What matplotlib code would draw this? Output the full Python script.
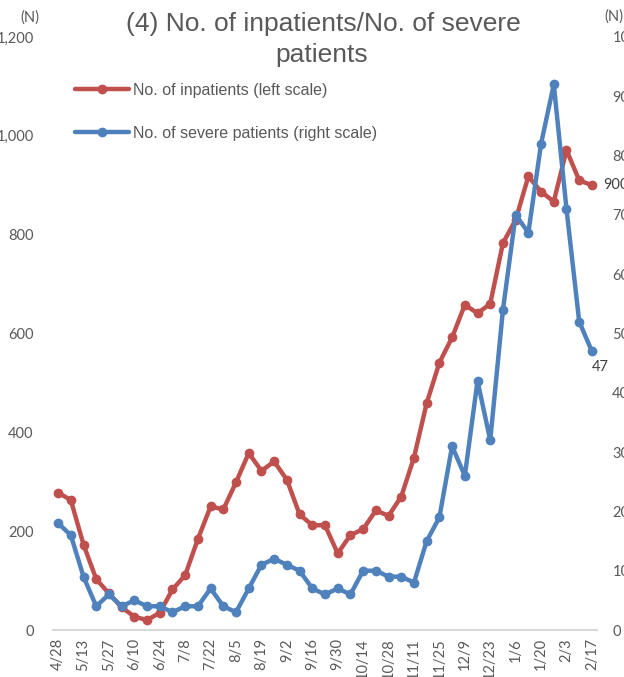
import matplotlib.pyplot as plt
import numpy as np

weeks = ["4/28", "5/6", "5/13", "5/20", "5/27", "6/3", "6/10", "6/17", "6/24", "7/1",
         "7/8", "7/15", "7/22", "7/29", "8/5", "8/12", "8/19", "8/26", "9/2", "9/9",
         "9/16", "9/23", "9/30", "10/7", "10/14", "10/21", "10/28", "11/4", "11/11", "11/18",
         "11/25", "12/2", "12/9", "12/16", "12/23", "12/30", "1/6", "1/13", "1/20", "1/27",
         "2/3", "2/10", "2/17"]

inpatients = [278, 263, 173, 103, 74, 46, 27, 20, 35, 82,
              111, 184, 250, 244, 299, 358, 322, 341, 304, 234,
              212, 212, 155, 192, 204, 242, 231, 270, 349, 459,
              541, 592, 658, 641, 660, 783, 830, 918, 887, 867,
              971, 910, 900]

severe = [18, 16, 9, 4, 6, 4, 5, 4, 4, 3,
          4, 4, 7, 4, 3, 7, 11, 12, 11, 10,
          7, 6, 7, 6, 10, 10, 9, 9, 8, 15,
          19, 31, 26, 42, 32, 54, 70, 67, 82, 92,
          71, 52, 47]

RED = "#C0504D"
BLUE = "#4F81BD"
GRAY = "#595959"
TICKFONT = "Lato"
MAINFONT = "Liberation Sans"

x = np.arange(len(weeks))

fig = plt.figure(figsize=(6.24, 6.77), dpi=100)
ax = fig.add_axes([53 / 624, 47 / 677, 544 / 624, 593 / 677])
ax2 = ax.twinx()

l1, = ax.plot(x, inpatients, color=RED, lw=3.2, marker="o", ms=6,
              label="No. of inpatients (left scale)", solid_capstyle="round")
l2, = ax2.plot(x, severe, color=BLUE, lw=3.2, marker="o", ms=6,
               label="No. of severe patients (right scale)", solid_capstyle="round")

ax.set_xlim(-0.4, len(weeks) - 0.6)
ax.set_ylim(0, 1200)
ax2.set_ylim(0, 100)
ax.set_yticks(range(0, 1201, 200))
ax.set_yticklabels([f"{v:,}" for v in range(0, 1201, 200)])
ax2.set_yticks(range(0, 101, 10))

ax.set_xticks(x[::2])
ax.set_xticklabels(weeks[::2], rotation=90)

for a in (ax, ax2):
    for s in a.spines.values():
        s.set_visible(False)
    a.tick_params(length=0, colors=GRAY, labelsize=10.5)
    for lab in a.get_xticklabels() + a.get_yticklabels():
        lab.set_fontfamily(TICKFONT)
ax.spines["bottom"].set_visible(True)
ax.spines["bottom"].set_color("#D9D9D9")
ax.spines["bottom"].set_linewidth(1.5)
ax.tick_params(axis="y", pad=14)
ax2.tick_params(axis="y", pad=11)
ax.tick_params(axis="x", pad=6)

ax.annotate(f"{inpatients[-1]}", (x[-1], inpatients[-1]), xytext=(8, 0),
            textcoords="offset points", va="center", ha="left", color="#404040",
            fontsize=10.5, fontfamily=TICKFONT)
ax2.annotate(f"{severe[-1]}", (x[-1], severe[-1]), xytext=(0, -11),
             textcoords="offset points", va="center", ha="left", color="#404040",
             fontsize=10.5, fontfamily=TICKFONT)

fig.text(30 / 624, 1 - 18 / 677, "(N)", ha="center", va="center", color=GRAY,
         fontsize=10.5, fontfamily=TICKFONT)
fig.text(614 / 624, 1 - 17 / 677, "(N)", ha="center", va="center", color=GRAY,
         fontsize=10.5, fontfamily=TICKFONT)

fig.text(323 / 624, 1 - 31 / 677, "(4) No. of inpatients/No. of severe", ha="center",
         va="baseline", color=GRAY, fontsize=19, fontfamily=MAINFONT)
fig.text(322 / 624, 1 - 62 / 677, "patients", ha="center", va="baseline", color=GRAY,
         fontsize=19, fontfamily=MAINFONT)

leg = ax.legend(handles=[l1, l2], loc="upper left", bbox_to_anchor=(75 / 624, 1 - 83 / 677),
                bbox_transform=fig.transFigure, frameon=False,
                handlelength=3.4, handletextpad=0.25, labelspacing=1.75, borderpad=0,
                borderaxespad=0, numpoints=1, prop={"family": MAINFONT, "size": 11.5})
for t in leg.get_texts():
    t.set_color(GRAY)

fig.savefig("out.png", dpi=100)
